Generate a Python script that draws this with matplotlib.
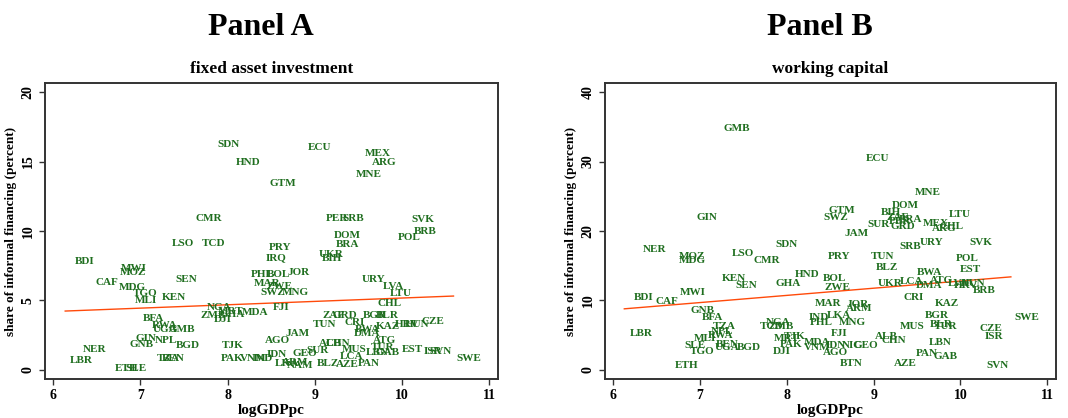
import matplotlib
matplotlib.use("Agg")
import matplotlib.pyplot as plt

# Panel A: fixed asset investment (country code, logGDPpc, share %)
codes_a = ["SDN", "HND", "GTM", "CMR", "ECU", "MEX", "ARG", "MNE", "PER", "SRB",
           "SVK", "BRB", "DOM", "POL", "BRA", "PRY", "IRQ", "UKR", "BIH", "PHL",
           "BOL", "JOR", "MAR", "ZWE", "SWZ", "MNG", "URY", "LVA", "LTU", "CHL",
           "FJI", "MDA", "ZAF", "GRD", "TUN", "CRI", "BGR", "BLR", "KAZ", "HRV",
           "HUN", "CZE", "BWA", "DMA", "ATG", "JAM", "AGO", "TUR", "LBN", "GAB",
           "EST", "ISR", "SVN", "SWE", "PAN", "AZE", "BLZ", "LCA", "MUS", "ALB",
           "CHN", "SUR", "GEO", "NAM", "LSO", "TCD", "BDI", "MWI", "MOZ", "CAF",
           "SEN", "MDG", "TGO", "MLI", "KEN", "NGA", "MRT", "ZMB", "DJI", "GHA",
           "BFA", "RWA", "UGA", "GMB", "GIN", "GNB", "NPL", "BGD", "TJK", "NER",
           "LBR", "TZA", "BEN", "PAK", "VNM", "IND", "IDN", "LKA", "ARM", "ETH",
           "SLE"]
x_a = [8.01, 8.24, 8.63, 7.78, 9.05, 9.72, 9.80, 9.62, 9.26, 9.44,
       10.24, 10.27, 9.37, 10.08, 9.38, 8.60, 8.56, 9.19, 9.20, 8.40,
       8.58, 8.82, 8.45, 8.60, 8.52, 8.78, 9.67, 9.90, 9.99, 9.86,
       8.61, 8.32, 9.21, 9.35, 9.11, 9.46, 9.69, 9.83, 9.84, 10.06,
       10.17, 10.35, 9.60, 9.60, 9.80, 8.80, 8.57, 9.78, 9.72, 9.83,
       10.12, 10.36, 10.44, 10.77, 9.62, 9.37, 9.15, 9.42, 9.45, 9.18,
       9.26, 9.03, 8.89, 8.83, 7.49, 7.84, 6.36, 6.92, 6.92, 6.62,
       7.53, 6.91, 7.06, 7.07, 7.39, 7.90, 8.03, 7.83, 7.94, 8.05,
       7.15, 7.28, 7.28, 7.48, 7.07, 7.02, 7.30, 7.55, 8.06, 6.48,
       6.32, 7.32, 7.38, 8.05, 8.29, 8.41, 8.57, 8.68, 8.78, 6.84,
       6.95]
y_a = [16.26, 14.9, 13.4, 10.9, 16.0, 15.6, 14.9, 14.1, 10.9, 10.9,
       10.8, 10.0, 9.7, 9.5, 9.0, 8.8, 8.1, 8.3, 8.0, 6.9,
       6.9, 7.0, 6.25, 6.0, 5.6, 5.6, 6.5, 6.0, 5.5, 4.75,
       4.46, 4.1, 3.9, 3.9, 3.3, 3.45, 3.9, 3.9, 3.1, 3.3,
       3.3, 3.5, 2.9, 2.65, 2.15, 2.6, 2.15, 1.65, 1.25, 1.25,
       1.5, 1.3, 1.3, 0.86, 0.5, 0.36, 0.5, 0.94, 1.5, 1.87,
       1.87, 1.37, 1.15, 0.3, 9.1, 9.1, 7.8, 7.3, 7.0, 6.3,
       6.5, 5.9, 5.5, 5.0, 5.2, 4.5, 4.2, 3.9, 3.6, 4.0,
       3.7, 3.2, 2.9, 2.9, 2.3, 1.8, 2.15, 1.73, 1.73, 1.5,
       0.65, 0.86, 0.86, 0.86, 0.8, 0.8, 1.08, 0.5, 0.57, 0.14,
       0.14]
fit_x_a = [6.14, 10.59]
fit_y_a = [4.24, 5.32]

# Panel B: working capital
codes_b = ["GMB", "GIN", "ECU", "MNE", "DOM", "GTM", "SWZ", "BIH", "ZAF", "PER",
           "BRA", "SUR", "GRD", "LTU", "MEX", "ARG", "CHL", "JAM", "SRB", "URY",
           "SVK", "PRY", "TUN", "BLZ", "POL", "EST", "HND", "BOL", "ZWE", "BWA",
           "UKR", "LCA", "DMA", "ATG", "LVA", "HRV", "HUN", "BRB", "CRI", "KAZ",
           "MAR", "JOR", "ARM", "IND", "LKA", "PHL", "MNG", "BGR", "SWE", "BLR",
           "TUR", "MUS", "CZE", "ISR", "FJI", "ALB", "CHN", "LBN", "MDA", "IDN",
           "VNM", "AGO", "NIC", "GEO", "PAN", "GAB", "AZE", "BTN", "SVN", "NER",
           "MOZ", "MDG", "LSO", "CMR", "SDN", "KEN", "SEN", "GHA", "BDI", "CAF",
           "MWI", "GNB", "BFA", "TZA", "NGA", "TCD", "ZMB", "LBR", "NPL", "RWA",
           "MLI", "MRT", "TJK", "PAK", "SLE", "BEN", "UGA", "BGD", "TGO", "DJI",
           "ETH"]
x_b = [7.43, 7.08, 9.05, 9.62, 9.37, 8.63, 8.56, 9.20, 9.27, 9.30,
       9.42, 9.06, 9.34, 9.99, 9.72, 9.81, 9.90, 8.80, 9.42, 9.67,
       10.24, 8.60, 9.10, 9.15, 10.08, 10.12, 8.24, 8.55, 8.58, 9.64,
       9.19, 9.44, 9.64, 9.78, 9.97, 10.06, 10.15, 10.27, 9.46, 9.84,
       8.47, 8.81, 8.83, 8.37, 8.60, 8.40, 8.75, 9.73, 10.77, 9.78,
       9.83, 9.44, 10.35, 10.38, 8.60, 9.15, 9.23, 9.77, 8.35, 8.56,
       8.35, 8.56, 8.75, 8.91, 9.61, 9.83, 9.37, 8.74, 10.43, 6.48,
       6.91, 6.91, 7.49, 7.77, 8.00, 7.39, 7.53, 8.02, 6.35, 6.62,
       6.92, 7.03, 7.15, 7.28, 7.90, 7.82, 7.94, 6.33, 7.26, 7.24,
       7.06, 8.00, 8.09, 8.05, 6.95, 7.31, 7.31, 7.56, 7.03, 7.94,
       6.85]
y_b = [34.7, 21.9, 30.5, 25.5, 23.6, 22.9, 22.0, 22.7, 22.0, 21.4,
       21.6, 21.0, 20.7, 22.4, 21.1, 20.3, 20.6, 19.7, 17.8, 18.4,
       18.3, 16.3, 16.4, 14.8, 16.0, 14.5, 13.7, 13.1, 11.8, 14.0,
       12.4, 12.7, 12.1, 12.9, 12.5, 12.1, 12.5, 11.4, 10.5, 9.5,
       9.5, 9.4, 8.8, 7.6, 7.8, 6.9, 6.9, 7.9, 7.6, 6.5,
       6.2, 6.2, 5.9, 4.75, 5.3, 4.75, 4.3, 3.9, 3.9, 3.5,
       3.2, 2.5, 3.5, 3.5, 2.3, 1.9, 1.0, 1.0, 0.7, 17.4,
       16.4, 15.7, 16.8, 15.7, 18.1, 13.1, 12.2, 12.5, 10.4, 9.9,
       11.1, 8.6, 7.5, 6.2, 6.9, 6.2, 6.3, 5.3, 5.5, 5.0,
       4.5, 4.6, 4.75, 3.6, 3.45, 3.7, 3.3, 3.3, 2.6, 2.6,
       0.6]
fit_x_b = [6.13, 10.58]
fit_y_b = [8.8, 13.4]

serif = ["Liberation Serif", "DejaVu Serif"]
plt.rcParams["font.family"] = serif
plt.rcParams["font.weight"] = "bold"

label_col = "#1f6e1f"
line_col = "#ff4a0a"

fig = plt.figure(figsize=(10.68, 4.18), dpi=100)
ax_a = fig.add_axes([0.0421, 0.0933, 0.4242, 0.7081])
ax_b = fig.add_axes([0.5665, 0.0933, 0.4223, 0.7081])

panels = [
    (ax_a, codes_a, x_a, y_a, fit_x_a, fit_y_a, "Panel A", "fixed asset investment",
     (-0.65, 20.65), [0, 5, 10, 15, 20]),
    (ax_b, codes_b, x_b, y_b, fit_x_b, fit_y_b, "Panel B", "working capital",
     (-1.3, 41.3), [0, 10, 20, 30, 40]),
]

for ax, codes, xs, ys, fx, fy, title, sub, ylim, yticks in panels:
    for c, xv, yv in zip(codes, xs, ys):
        ax.text(xv, yv, c, ha="center", va="center", fontsize=8,
                fontweight="bold", color=label_col)
    ax.plot(fx, fy, color=line_col, lw=1.0)
    ax.set_xlim(5.908, 11.1)
    ax.set_ylim(*ylim)
    ax.set_xticks([6, 7, 8, 9, 10, 11])
    ax.set_yticks(yticks)
    ax.tick_params(axis="both", direction="out", length=4, width=1,
                   labelsize=10, color="#333333")
    for lab in ax.get_yticklabels():
        lab.set_rotation(90)
        lab.set_va("center")
    for s in ax.spines.values():
        s.set_linewidth(1.4)
        s.set_color("#333333")
    ax.set_xlabel("logGDPpc", fontsize=11, fontweight="bold", labelpad=1)
    ax.set_ylabel("share of informal financing (percent)", fontsize=9.5,
                  fontweight="bold", labelpad=3)
    ax.set_title(sub, fontsize=12.5, fontweight="bold", pad=7)
    pos = ax.get_position()
    fig.text((pos.x0 + pos.x1) / 2 - 0.01, 0.935, title, ha="center",
             va="center", fontsize=23, fontweight="bold")

fig.savefig("out.png", dpi=100)
